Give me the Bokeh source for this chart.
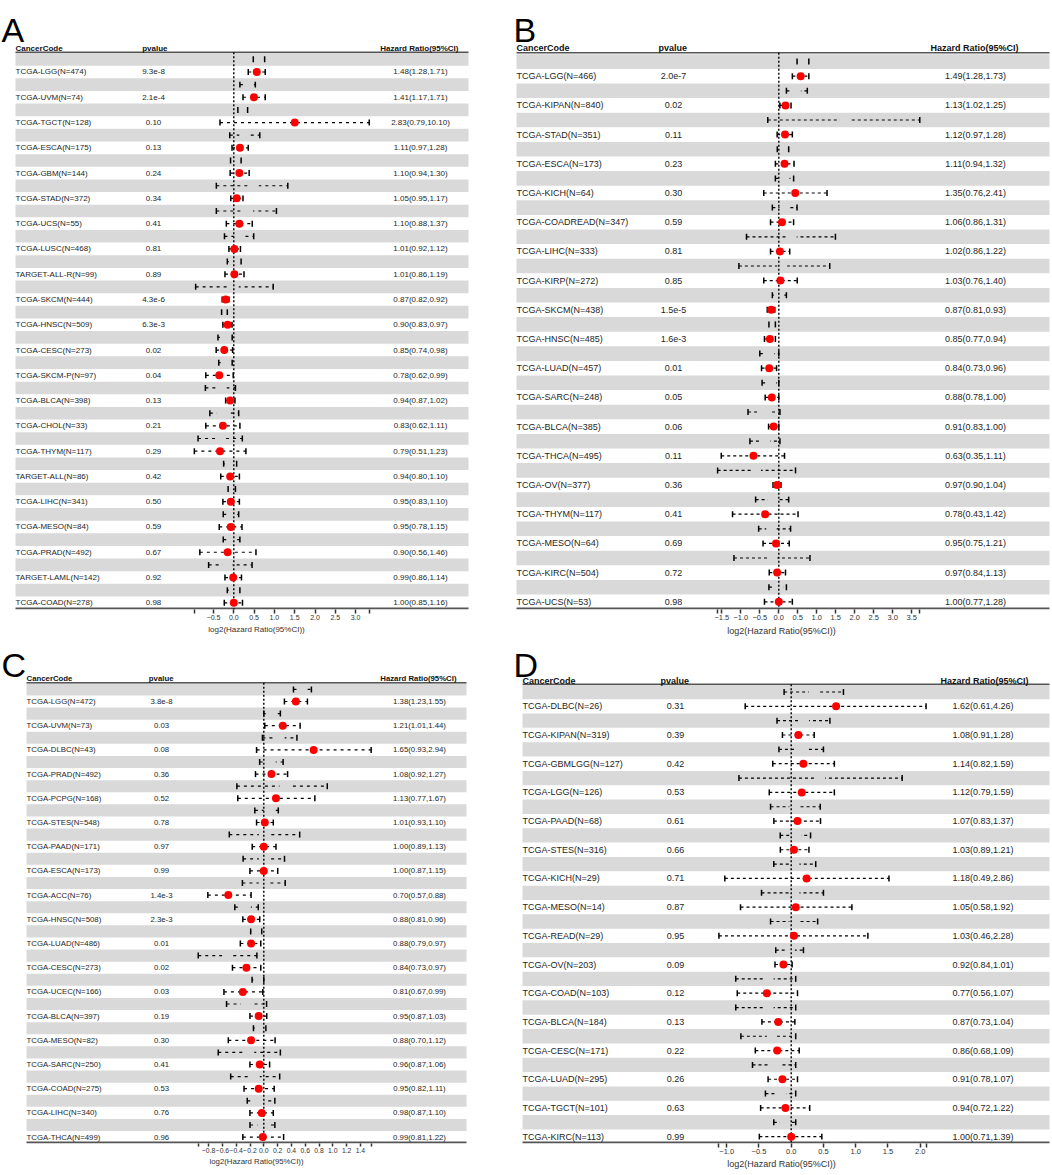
import math
from bokeh.plotting import figure
from bokeh.models import Range1d, FixedTicker
from bokeh.layouts import column, row
from bokeh.embed import file_html
from bokeh.resources import INLINE
from bokeh.core.properties import value

FONT = "Liberation Sans"
BAND = "#d9d9d9"

# ---------------- Panel A data ----------------
a_names = ["TCGA-LGG", "TCGA-UVM", "TCGA-TGCT", "TCGA-ESCA", "TCGA-GBM", "TCGA-STAD", "TCGA-UCS",
           "TCGA-LUSC", "TARGET-ALL-R", "TCGA-SKCM", "TCGA-HNSC", "TCGA-CESC", "TCGA-SKCM-P",
           "TCGA-BLCA", "TCGA-CHOL", "TCGA-THYM", "TARGET-ALL", "TCGA-LIHC", "TCGA-MESO",
           "TCGA-PRAD", "TARGET-LAML", "TCGA-COAD"]
a_n = [474, 74, 128, 175, 144, 372, 55, 468, 99, 444, 509, 273, 97, 398, 33, 117, 86, 341, 84, 492, 142, 278]
a_pvalue = ["9.3e-8", "2.1e-4", "0.10", "0.13", "0.24", "0.34", "0.41", "0.81", "0.89", "4.3e-6",
            "6.3e-3", "0.02", "0.04", "0.13", "0.21", "0.29", "0.42", "0.50", "0.59", "0.67", "0.92", "0.98"]
a_hr = [1.48, 1.41, 2.83, 1.11, 1.10, 1.05, 1.10, 1.01, 1.01, 0.87, 0.90, 0.85, 0.78, 0.94, 0.83, 0.79,
        0.94, 0.95, 0.95, 0.90, 0.99, 1.00]
a_lo = [1.28, 1.17, 0.79, 0.97, 0.94, 0.95, 0.88, 0.92, 0.86, 0.82, 0.83, 0.74, 0.62, 0.87, 0.62, 0.51,
        0.80, 0.83, 0.78, 0.56, 0.86, 0.85]
a_hi = [1.71, 1.71, 10.10, 1.28, 1.30, 1.17, 1.37, 1.12, 1.19, 0.92, 0.97, 0.98, 0.99, 1.02, 1.11, 1.23,
        1.10, 1.10, 1.15, 1.46, 1.14, 1.16]
# unlabeled intervals in the shaded rows (log2 scale)
a_ghost_lo = [0.48, 0.15, 0.10, -0.10, -0.08, -0.43, -0.43, -0.23, -0.16, -0.94, -0.30, -0.39, -0.37,
              -0.70, -0.59, -0.88, -0.25, -0.14, -0.26, -0.26, -0.62, -0.16]
a_ghost_mid = [0.62, 0.35, 0.22, 0.26, 0.05, 0.49, 0.35, 0.12, 0.00, 0.00, -0.23, -0.22, -0.20,
               -0.30, -0.29, -0.33, -0.10, -0.05, -0.05, -0.05, -0.16, 0.00]
a_ghost_hi = [0.76, 0.53, 0.34, 0.64, 0.18, 1.33, 1.05, 0.49, 0.18, 0.97, -0.16, -0.04, -0.04,
              0.04, 0.12, 0.21, 0.07, 0.04, 0.12, 0.15, 0.45, 0.15]
a_ticks = [-0.5, 0.0, 0.5, 1.0, 1.5, 2.0, 2.5, 3.0]
a_tick_labels = ["\u22120.5", "0.0", "0.5", "1.0", "1.5", "2.0", "2.5", "3.0"]

# ---------------- Panel B data ----------------
b_names = ["TCGA-LGG", "TCGA-KIPAN", "TCGA-STAD", "TCGA-ESCA", "TCGA-KICH", "TCGA-COADREAD", "TCGA-LIHC",
           "TCGA-KIRP", "TCGA-SKCM", "TCGA-HNSC", "TCGA-LUAD", "TCGA-SARC", "TCGA-BLCA", "TCGA-THCA",
           "TCGA-OV", "TCGA-THYM", "TCGA-MESO", "TCGA-KIRC", "TCGA-UCS"]
b_n = [466, 840, 351, 173, 64, 347, 333, 272, 438, 485, 457, 248, 385, 495, 377, 117, 64, 504, 53]
b_pvalue = ["2.0e-7", "0.02", "0.11", "0.23", "0.30", "0.59", "0.81", "0.85", "1.5e-5", "1.6e-3",
            "0.01", "0.05", "0.06", "0.11", "0.36", "0.41", "0.69", "0.72", "0.98"]
b_hr = [1.49, 1.13, 1.12, 1.11, 1.35, 1.06, 1.02, 1.03, 0.87, 0.85, 0.84, 0.88, 0.91, 0.63, 0.97, 0.78,
        0.95, 0.97, 1.00]
b_lo = [1.28, 1.02, 0.97, 0.94, 0.76, 0.86, 0.86, 0.76, 0.81, 0.77, 0.73, 0.78, 0.83, 0.35, 0.90, 0.43,
        0.75, 0.84, 0.77]
b_hi = [1.73, 1.25, 1.28, 1.32, 2.41, 1.31, 1.22, 1.40, 0.93, 0.94, 0.96, 1.00, 1.00, 1.11, 1.04, 1.42,
        1.21, 1.13, 1.28]
b_ghost_lo = [0.48, 0.20, -0.29, -0.04, -0.09, -0.17, -0.85, -1.05, -0.17, -0.26, -0.50, -0.44, -0.81,
              -0.76, -1.61, -0.61, -0.53, -1.18, -0.26]
b_ghost_mid = [0.63, 0.45, 1.73, 0.11, 0.15, 0.15, 0.34, 0.09, 0.00, -0.17, -0.25, -0.20, -0.39,
               -0.35, -0.60, -0.17, -0.20, -0.17, 0.00]
b_ghost_hi = [0.79, 0.75, 3.71, 0.26, 0.39, 0.48, 1.49, 1.34, 0.20, -0.09, 0.00, 0.00, 0.03,
              0.03, 0.44, 0.26, 0.31, 0.82, 0.20]
b_ticks = [-1.5, -1.0, -0.5, 0.0, 0.5, 1.0, 1.5, 2.0, 2.5, 3.0, 3.5]
b_tick_labels = ["\u22121.5", "\u22121.0", "\u22120.5", "0.0", "0.5", "1.0", "1.5", "2.0", "2.5", "3.0", "3.5"]

# ---------------- Panel C data ----------------
c_names = ["TCGA-LGG", "TCGA-UVM", "TCGA-DLBC", "TCGA-PRAD", "TCGA-PCPG", "TCGA-STES", "TCGA-PAAD",
           "TCGA-ESCA", "TCGA-ACC", "TCGA-HNSC", "TCGA-LUAD", "TCGA-CESC", "TCGA-UCEC", "TCGA-BLCA",
           "TCGA-MESO", "TCGA-SARC", "TCGA-COAD", "TCGA-LIHC", "TCGA-THCA"]
c_n = [472, 73, 43, 492, 168, 548, 171, 173, 76, 508, 486, 273, 166, 397, 82, 250, 275, 340, 499]
c_pvalue = ["3.8e-8", "0.03", "0.08", "0.36", "0.52", "0.78", "0.97", "0.99", "1.4e-3", "2.3e-3",
            "0.01", "0.02", "0.03", "0.19", "0.30", "0.41", "0.53", "0.76", "0.96"]
c_hr = [1.38, 1.21, 1.65, 1.08, 1.13, 1.01, 1.00, 1.00, 0.70, 0.88, 0.88, 0.84, 0.81, 0.95, 0.88, 0.96,
        0.95, 0.98, 0.99]
c_lo = [1.23, 1.01, 0.93, 0.92, 0.77, 0.93, 0.89, 0.87, 0.57, 0.81, 0.79, 0.73, 0.67, 0.87, 0.70, 0.87,
        0.82, 0.87, 0.81]
c_hi = [1.55, 1.44, 2.94, 1.27, 1.67, 1.10, 1.13, 1.15, 0.88, 0.96, 0.97, 0.97, 0.99, 1.03, 1.12, 1.06,
        1.11, 1.10, 1.22]
c_ghost_lo = [0.43, 0.00, -0.02, -0.06, -0.39, -0.13, -0.50, -0.30, -0.31, -0.42, -0.19, -0.95, -0.17,
              -0.54, -0.15, -0.66, -0.48, -0.24, -0.20]
c_ghost_mid = [0.56, 0.10, 0.23, 0.10, 0.30, 0.07, 0.00, 0.00, 0.00, -0.26, -0.11, -0.53, -0.08,
               -0.26, -0.06, -0.21, -0.13, -0.07, -0.02]
c_ghost_hi = [0.69, 0.24, 0.48, 0.28, 0.92, 0.21, 0.52, 0.30, 0.31, -0.08, -0.03, -0.10, 0.00,
              0.04, 0.03, 0.24, 0.23, 0.16, 0.16]
c_ticks = [-0.8, -0.6, -0.4, -0.2, 0.0, 0.2, 0.4, 0.6, 0.8, 1.0, 1.2, 1.4]
c_tick_labels = ["\u22120.8", "\u22120.6", "\u22120.4", "\u22120.2", "0.0", "0.2", "0.4", "0.6", "0.8",
                 "1.0", "1.2", "1.4"]

# ---------------- Panel D data ----------------
d_names = ["TCGA-DLBC", "TCGA-KIPAN", "TCGA-GBMLGG", "TCGA-LGG", "TCGA-PAAD", "TCGA-STES", "TCGA-KICH",
           "TCGA-MESO", "TCGA-READ", "TCGA-OV", "TCGA-COAD", "TCGA-BLCA", "TCGA-CESC", "TCGA-LUAD",
           "TCGA-TGCT", "TCGA-KIRC"]
d_n = [26, 319, 127, 126, 68, 316, 29, 14, 29, 203, 103, 184, 171, 295, 101, 113]
d_pvalue = ["0.31", "0.39", "0.42", "0.53", "0.61", "0.66", "0.71", "0.87", "0.95", "0.09", "0.12",
            "0.13", "0.22", "0.26", "0.63", "0.99"]
d_hr = [1.62, 1.08, 1.14, 1.12, 1.07, 1.03, 1.18, 1.05, 1.03, 0.92, 0.77, 0.87, 0.86, 0.91, 0.94, 1.00]
d_lo = [0.61, 0.91, 0.82, 0.79, 0.83, 0.89, 0.49, 0.58, 0.46, 0.84, 0.56, 0.73, 0.68, 0.78, 0.72, 0.71]
d_hi = [4.26, 1.28, 1.59, 1.59, 1.37, 1.21, 2.86, 1.92, 2.28, 1.01, 1.07, 1.04, 1.09, 1.07, 1.22, 1.39]
d_ghost_lo = [-0.11, -0.22, -0.19, -0.81, -0.32, -0.17, -0.27, -0.46, -0.32, -0.24, -0.86, -0.86,
              -0.78, -0.60, -0.40, -0.27]
d_ghost_mid = [0.35, 0.20, 0.16, 0.45, 0.05, 0.08, 0.05, 0.05, 0.05, -0.02, -0.35, -0.35, -0.30,
               -0.25, -0.15, -0.10]
d_ghost_hi = [0.81, 0.60, 0.50, 1.72, 0.45, 0.30, 0.38, 0.50, 0.41, 0.19, 0.07, 0.07, 0.07, 0.07,
              0.07, 0.07]
d_ticks = [-1.0, -0.5, 0.0, 0.5, 1.0, 1.5, 2.0]
d_tick_labels = ["\u22121.0", "\u22120.5", "0.0", "0.5", "1.0", "1.5", "2.0"]

AXIS_TITLE = "log2(Hazard Ratio(95%CI))"


def build(letter, names, ns, pvals, hr, lo, hi, glo, gmid, ghi, ticks, tick_labels, L):
    fl, fr, ft, fbot = L["fig"]
    W, H = fr - fl, fbot - ft
    zero, scale = L["zero"], L["scale"]
    half, band_top = L["half"], L["band_top"]
    N = len(names)
    frame_h = round(band_top + 2 * N * half - ft)
    bottom = ft + frame_h

    def dx(px):
        return (px - zero) / scale

    p = figure(width=W, height=H, x_range=Range1d(dx(fl), dx(fr)), y_range=Range1d(bottom, ft),
               output_backend="svg", toolbar_location=None, y_axis_location=None,
               min_border_left=0, min_border_right=0, min_border_top=0,
               min_border_bottom=H - frame_h)
    p.grid.visible = False
    p.outline_line_color = None
    p.background_fill_color = "white"
    p.border_fill_color = "white"

    tl = dx(L["table_left"])
    tr = dx(min(L["table_right"], fr - 1))
    row_y = [band_top + (2 * k + 1.5) * half for k in range(N)]
    gray_y = [band_top + (2 * k + 0.5) * half for k in range(N)]

    # shaded rows
    p.hbar(y=gray_y, left=tl, right=tr, height=half, color=BAND, line_color=None)
    # header rule and bottom rule
    p.segment(x0=[tl], x1=[tr], y0=[L["hline"]], y1=[L["hline"]], line_color="#555555", line_width=1.5)
    p.segment(x0=[tl], x1=[tr], y0=[bottom - 1], y1=[bottom - 1], line_color="#555555", line_width=2)

    l2 = [math.log2(v) for v in hr]
    l2lo = [math.log2(v) for v in lo]
    l2hi = [math.log2(v) for v in hi]

    dash = L["dash"]
    # dashed intervals
    p.segment(x0=l2lo, x1=l2hi, y0=row_y, y1=row_y, line_color="black", line_width=1.2, line_dash=dash)
    p.segment(x0=glo, x1=ghi, y0=gray_y, y1=gray_y, line_color="black", line_width=1.2, line_dash=dash)
    # hidden estimate boxes in shaded rows
    p.scatter(x=gmid, y=gray_y, marker="square", size=10, color=BAND, line_color=None)
    # caps
    cap_x = l2lo + l2hi + list(glo) + list(ghi)
    cap_y = row_y + row_y + gray_y + gray_y
    p.segment(x0=cap_x, x1=cap_x, y0=[y - 3 for y in cap_y], y1=[y + 3 for y in cap_y],
              line_color="black", line_width=1.5)
    # reference line at log2(HR)=0
    p.segment(x0=[0], x1=[0], y0=[L["hline"]], y1=[bottom], line_color="black", line_width=1.4,
              line_dash="2 2")
    # point estimates
    p.scatter(x=l2, y=row_y, size=8, color="red", line_color=None)

    fs = L["fs"]
    labels = [f"{nm}(N={n})" for nm, n in zip(names, ns)]
    hr_txt = [f"{h:.2f}({a:.2f},{b:.2f})" for h, a, b in zip(hr, lo, hi)]
    common = dict(text_font=value(FONT), text_font_size=f"{fs}px", text_baseline="middle",
                  text_color="#1e1e1e")
    p.text(x=[dx(L["label_px"])] * N, y=row_y, text=labels, text_align="left", **common)
    p.text(x=[dx(L["pv_px"])] * N, y=row_y, text=pvals, text_align="center", **common)
    p.text(x=[dx(L["hr_px"])] * N, y=row_y, text=hr_txt, text_align="center", **common)
    # headers
    hcommon = dict(common, text_font_style="bold", text_color="#111111")
    p.text(x=[dx(L["label_px"])], y=[L["head_y"]], text=["CancerCode"], text_align="left", **hcommon)
    p.text(x=[dx(L["pv_head_px"])], y=[L["head_y"]], text=["pvalue"], text_align="left", **hcommon)
    p.text(x=[dx(L["hr_head_px"])], y=[L["head_y"]], text=["Hazard Ratio(95%CI)"], text_align="right",
           **hcommon)
    # panel letter
    p.text(x=[dx(fl + 1)], y=[L["letter_y"]], text=[letter], text_align="left", text_baseline="alphabetic",
           text_font=value(FONT), text_font_size="34px", text_color="black")

    # axis
    lo_end = min(min(l2lo), min(glo))
    hi_end = max(max(l2hi), max(ghi))
    ax = p.xaxis[0]
    ax.ticker = FixedTicker(ticks=[lo_end] + list(ticks) + [hi_end])
    ov = {float(t): s for t, s in zip(ticks, tick_labels)}
    ov[float(lo_end)] = ""
    ov[float(hi_end)] = ""
    ax.major_label_overrides = ov
    ax.bounds = (lo_end, hi_end)
    ax.axis_line_color = None
    ax.major_tick_in = 0
    ax.major_tick_out = L["tick_out"]
    ax.minor_tick_in = 0
    ax.minor_tick_out = 0
    ax.major_tick_line_color = "#333333"
    ax.major_tick_line_width = 1.5
    ax.major_label_text_font = FONT
    ax.major_label_text_font_size = f"{L['tick_fs']}px"
    ax.major_label_text_color = "#333333"
    ax.major_label_standoff = 1
    ax.axis_label = AXIS_TITLE
    ax.axis_label_text_font = FONT
    ax.axis_label_text_font_style = "normal"
    ax.axis_label_text_font_size = f"{L['title_fs']}px"
    ax.axis_label_text_color = "#333333"
    ax.axis_label_standoff = L["title_standoff"]
    return p


LA = dict(fig=(0, 512, 0, 640), zero=233.3, scale=40.6, half=12.68, band_top=52.7, hline=52.0,
          head_y=47.7, table_left=15, table_right=468, label_px=15, pv_px=153, pv_head_px=141.7,
          hr_px=420, hr_head_px=458, fs=8, tick_fs=7, title_fs=8, tick_out=4, title_standoff=2,
          letter_y=30, dash="3 4")
LB = dict(fig=(512, 1050, 0, 640), zero=778.3, scale=38.0, half=14.6, band_top=53.8, hline=52.3,
          head_y=47.7, table_left=516, table_right=1050, label_px=516, pv_px=673, pv_head_px=658,
          hr_px=975, hr_head_px=1018, fs=9, tick_fs=7.5, title_fs=9, tick_out=4, title_standoff=3,
          letter_y=29, dash="3 3")
LC = dict(fig=(0, 512, 640, 1173), zero=263.3, scale=69.0, half=12.1, band_top=682.85, hline=682.3,
          head_y=678, table_left=26, table_right=466, label_px=26, pv_px=161, pv_head_px=148.3,
          hr_px=419, hr_head_px=456, fs=7.8, tick_fs=6.8, title_fs=7.8, tick_out=3, title_standoff=1,
          letter_y=664, dash="3 4")
LD = dict(fig=(512, 1050, 640, 1173), zero=790.7, scale=64.5, half=14.4, band_top=684.5, hline=684.0,
          head_y=680.7, table_left=522, table_right=1050, label_px=522, pv_px=675, pv_head_px=660,
          hr_px=982.5, hr_head_px=1028, fs=9, tick_fs=7.5, title_fs=9, tick_out=4, title_standoff=2,
          letter_y=665, dash="3 3")

pA = build("A", a_names, a_n, a_pvalue, a_hr, a_lo, a_hi, a_ghost_lo, a_ghost_mid, a_ghost_hi,
           a_ticks, a_tick_labels, LA)
pB = build("B", b_names, b_n, b_pvalue, b_hr, b_lo, b_hi, b_ghost_lo, b_ghost_mid, b_ghost_hi,
           b_ticks, b_tick_labels, LB)
pC = build("C", c_names, c_n, c_pvalue, c_hr, c_lo, c_hi, c_ghost_lo, c_ghost_mid, c_ghost_hi,
           c_ticks, c_tick_labels, LC)
pD = build("D", d_names, d_n, d_pvalue, d_hr, d_lo, d_hi, d_ghost_lo, d_ghost_mid, d_ghost_hi,
           d_ticks, d_tick_labels, LD)

layout = column(row(pA, pB), row(pC, pD))
open("out.html", "w").write(file_html(layout, INLINE))
